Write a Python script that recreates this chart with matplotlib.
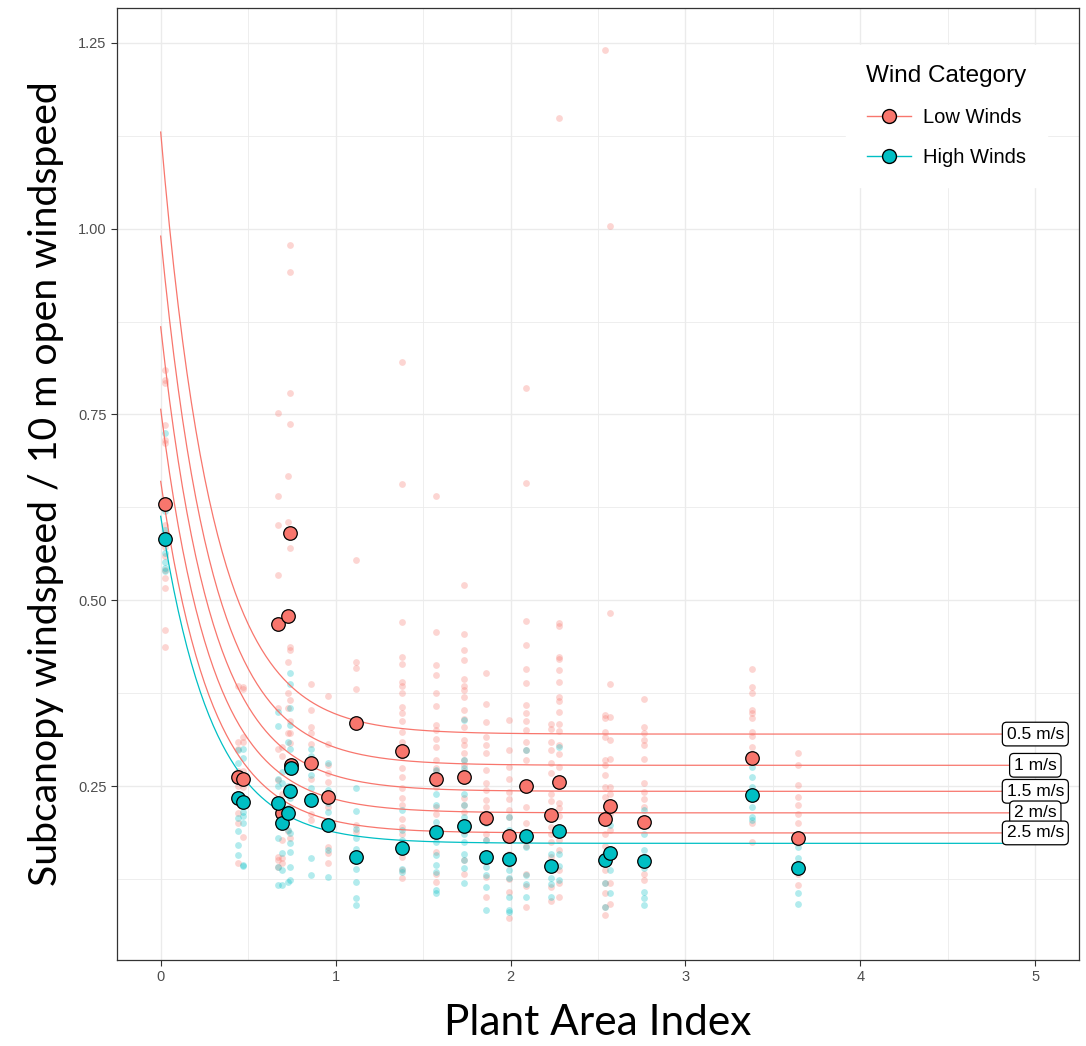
import numpy as np
import matplotlib
matplotlib.use("Agg")
import matplotlib.pyplot as plt
from matplotlib.lines import Line2D

# colours used by ggplot for the two groups
low_col = "#F8766D"
high_col = "#00BFC4"

# raw observations: plant area index of each stand and the ratios measured there
raw_pai = [0.025, 0.442, 0.472, 0.672, 0.691, 0.728, 0.742, 0.859, 0.954, 1.116, 1.377, 1.573,
           1.735, 1.857, 1.99, 2.091, 2.23, 2.278, 2.539, 2.568, 2.762, 3.381, 3.642]

low_raw = [
    [0.810, 0.797, 0.792, 0.736, 0.716, 0.711, 0.63, 0.601, 0.592, 0.572, 0.559, 0.541, 0.530, 0.516, 0.460, 0.4375],
    [0.385, 0.31, 0.30, 0.27, 0.25, 0.214, 0.20, 0.146],
    [0.384, 0.38, 0.316, 0.31, 0.27, 0.249, 0.23, 0.182],
    [0.752, 0.641, 0.601, 0.534, 0.355, 0.30, 0.258, 0.155, 0.15, 0.141],
    [0.303, 0.29, 0.24, 0.177, 0.153, 0.146],
    [0.667, 0.606, 0.417, 0.375, 0.355, 0.321, 0.21, 0.19],
    [0.978, 0.942, 0.779, 0.737, 0.571, 0.4375, 0.433, 0.366, 0.337, 0.321, 0.308, 0.25, 0.18],
    [0.388, 0.353, 0.330, 0.321, 0.307, 0.26, 0.213, 0.205],
    [0.371, 0.307, 0.279, 0.267, 0.256, 0.222, 0.168, 0.16, 0.146],
    [0.554, 0.417, 0.409, 0.380, 0.197, 0.188],
    [0.821, 0.657, 0.471, 0.424, 0.414, 0.39, 0.385, 0.375, 0.357, 0.348, 0.337, 0.323, 0.310, 0.29,
     0.274, 0.2625, 0.247, 0.234, 0.225, 0.206, 0.195, 0.185, 0.164, 0.155, 0.137, 0.126],
    [0.641, 0.458, 0.413, 0.399, 0.375, 0.358, 0.332, 0.325, 0.314, 0.303, 0.285, 0.274, 0.27, 0.249,
     0.222, 0.212, 0.186, 0.161, 0.132, 0.121],
    [0.521, 0.454, 0.433, 0.420, 0.394, 0.385, 0.379, 0.37, 0.352, 0.34, 0.33, 0.312, 0.305, 0.295,
     0.285, 0.278, 0.27, 0.234, 0.225, 0.215, 0.2, 0.19, 0.15, 0.132],
    [0.402, 0.360, 0.336, 0.316, 0.305, 0.294, 0.272, 0.254, 0.245, 0.231, 0.222, 0.186, 0.177, 0.16, 0.128, 0.101],
    [0.339, 0.299, 0.276, 0.26, 0.242, 0.233, 0.218, 0.208, 0.159, 0.145, 0.125, 0.108, 0.072],
    [0.786, 0.658, 0.472, 0.440, 0.408, 0.389, 0.359, 0.349, 0.337, 0.325, 0.310, 0.298, 0.285, 0.222,
     0.200, 0.17, 0.132, 0.115, 0.088],
    [0.334, 0.327, 0.310, 0.298, 0.281, 0.267, 0.240, 0.23, 0.195, 0.185, 0.175, 0.155, 0.138, 0.114, 0.096],
    [1.149, 0.469, 0.466, 0.424, 0.421, 0.406, 0.390, 0.370, 0.365, 0.350, 0.334, 0.324, 0.305, 0.293,
     0.276, 0.227, 0.22, 0.21, 0.177, 0.164, 0.137, 0.119, 0.101],
    [1.241, 0.346, 0.341, 0.323, 0.316, 0.285, 0.278, 0.265, 0.249, 0.235, 0.213, 0.186, 0.169, 0.137,
     0.12, 0.106, 0.088, 0.076],
    [1.004, 0.483, 0.388, 0.343, 0.312, 0.287, 0.249, 0.239, 0.213, 0.191, 0.16, 0.119, 0.092],
    [0.367, 0.329, 0.322, 0.312, 0.305, 0.286, 0.254, 0.242, 0.233, 0.222, 0.202, 0.132, 0.123],
    [0.407, 0.383, 0.375, 0.352, 0.348, 0.341, 0.323, 0.318, 0.303, 0.200, 0.175],
    [0.294, 0.278, 0.251, 0.236, 0.224, 0.213, 0.200, 0.173, 0.132, 0.117],
]

high_raw = [
    [0.725, 0.62, 0.595, 0.583, 0.577, 0.563, 0.552, 0.543, 0.539],
    [0.298, 0.281, 0.26, 0.24, 0.207, 0.19, 0.171, 0.157],
    [0.30, 0.288, 0.265, 0.215, 0.21, 0.20, 0.144, 0.143],
    [0.35, 0.331, 0.26, 0.25, 0.202, 0.18, 0.141, 0.117],
    [0.269, 0.254, 0.197, 0.16, 0.137, 0.117],
    [0.31, 0.25, 0.22, 0.191, 0.121],
    [0.402, 0.388, 0.355, 0.332, 0.30, 0.27, 0.234, 0.22, 0.209, 0.187, 0.173, 0.161, 0.141, 0.123],
    [0.300, 0.29, 0.265, 0.247, 0.227, 0.153, 0.130],
    [0.281, 0.245, 0.227, 0.215, 0.164, 0.128],
    [0.247, 0.216, 0.192, 0.180, 0.166, 0.150, 0.139, 0.121, 0.099, 0.090],
    [0.218, 0.191, 0.177, 0.165, 0.139, 0.135],
    [0.272, 0.240, 0.224, 0.202, 0.175, 0.157, 0.144, 0.135, 0.110, 0.106],
    [0.339, 0.285, 0.275, 0.240, 0.225, 0.209, 0.186, 0.175, 0.159, 0.15, 0.14, 0.119],
    [0.200, 0.177, 0.141, 0.13, 0.114, 0.083],
    [0.209, 0.191, 0.137, 0.127, 0.101, 0.083, 0.08],
    [0.298, 0.168, 0.130, 0.118, 0.101],
    [0.159, 0.126, 0.118, 0.101],
    [0.303, 0.159, 0.142, 0.123],
    [0.159, 0.146, 0.119, 0.088],
    [0.197, 0.159, 0.137, 0.106],
    [0.218, 0.186, 0.164, 0.14, 0.108, 0.1, 0.090],
    [0.276, 0.2625, 0.249, 0.222, 0.209, 0.204],
    [0.168, 0.153, 0.14, 0.106, 0.092],
]

# mean ratio per stand
mean_pai = [0.025, 0.442, 0.472, 0.672, 0.691, 0.728, 0.739, 0.747, 0.859, 0.954, 1.116, 1.377,
            1.573, 1.735, 1.857, 1.99, 2.091, 2.23, 2.278, 2.539, 2.568, 2.762, 3.381, 3.642]
low_mean = [0.630, 0.2625, 0.259, 0.468, 0.214, 0.479, 0.590, 0.279, 0.281, 0.236, 0.335, 0.297,
            0.259, 0.2625, 0.207, 0.183, 0.250, 0.211, 0.255, 0.206, 0.223, 0.202, 0.288, 0.180]
high_mean = [0.583, 0.234, 0.228, 0.227, 0.201, 0.214, 0.244, 0.274, 0.231, 0.197, 0.155, 0.167,
             0.188, 0.196, 0.154, 0.152, 0.183, 0.142, 0.190, 0.150, 0.160, 0.149, 0.2375, 0.140]

# fitted decay curves  y = plateau + (start - plateau) * exp(-rate * PAI)
curve_labels = ["0.5 m/s", "1 m/s", "1.5 m/s", "2 m/s", "2.5 m/s"]
curve_start = [1.13, 0.99, 0.868, 0.757, 0.66]
curve_plateau = [0.32, 0.278, 0.243, 0.214, 0.187]
high_start = 0.613
high_plateau = 0.173
decay_rate = 3.4

fig = plt.figure(figsize=(10.86, 10.46), dpi=100)
ax = fig.add_axes([0.1077, 0.0822, 0.8859, 0.9102])

#Raw points
for x, vals in zip(raw_pai, low_raw):
    ax.scatter([x] * len(vals), vals, s=24, color=low_col, alpha=0.3, linewidths=0, zorder=2)
for x, vals in zip(raw_pai, high_raw):
    ax.scatter([x] * len(vals), vals, s=24, color=high_col, alpha=0.3, linewidths=0, zorder=2)

#Fitted curves
pai = np.linspace(0, 5, 400)
for s0, p in zip(curve_start, curve_plateau):
    ax.plot(pai, p + (s0 - p) * np.exp(-decay_rate * pai), color=low_col, lw=0.9, zorder=3)
ax.plot(pai, high_plateau + (high_start - high_plateau) * np.exp(-decay_rate * pai),
        color=high_col, lw=0.9, zorder=3)

#Means
ax.scatter(mean_pai, low_mean, s=95, color=low_col, edgecolors="black", linewidths=0.9, zorder=4)
ax.scatter(mean_pai, high_mean, s=95, color=high_col, edgecolors="black", linewidths=0.9, zorder=4)

#Curve labels at the end of each curve
for lab, s0, p in zip(curve_labels, curve_start, curve_plateau):
    yend = p + (s0 - p) * np.exp(-decay_rate * 5)
    ax.text(5, yend, lab, ha="center", va="center", fontsize=12.5, family="Liberation Sans", zorder=5,
            bbox=dict(boxstyle="round,pad=0.25,rounding_size=0.25", fc="white", ec="black", lw=0.9))

ax.set_xlim(-0.25, 5.25)
ax.set_ylim(0.016, 1.297)
ax.set_xticks([0, 1, 2, 3, 4, 5])
ax.set_yticks([0.25, 0.5, 0.75, 1.0, 1.25])
ax.set_yticklabels(["0.25", "0.50", "0.75", "1.00", "1.25"])
ax.set_xticks(np.arange(0.5, 5.0, 1.0), minor=True)
ax.set_yticks(np.arange(0.125, 1.3, 0.25), minor=True)
ax.tick_params(which="major", length=4, width=0.8, color="#333333", labelcolor="#4D4D4D", labelsize=10.5)
ax.tick_params(which="minor", length=0)
for lab in ax.get_xticklabels() + ax.get_yticklabels():
    lab.set_family("Liberation Sans")
ax.grid(which="major", color="#EBEBEB", lw=1.0, zorder=0)
ax.grid(which="minor", color="#EBEBEB", lw=0.6, zorder=0)
ax.set_axisbelow(True)
for sp in ax.spines.values():
    sp.set_color("#333333")
    sp.set_linewidth(0.9)

ax.set_xlabel("Plant Area Index", fontsize=30.5, family="Lato", labelpad=14)
ax.set_ylabel("Subcanopy windspeed / 10 m open windspeed", fontsize=28.3, family="Lato", labelpad=10)

handles = [Line2D([], [], color=low_col, marker="o", markersize=10, markerfacecolor=low_col,
                  markeredgecolor="black", lw=1),
           Line2D([], [], color=high_col, marker="o", markersize=10, markerfacecolor=high_col,
                  markeredgecolor="black", lw=1)]
leg = ax.legend(handles, ["Low Winds", "High Winds"], title="Wind Category", loc="upper right",
                bbox_to_anchor=(0.977, 0.972), frameon=True, fancybox=False, edgecolor="white",
                prop={"family": "Liberation Sans", "size": 14.5}, title_fontproperties={"family": "Liberation Sans", "size": 17.5},
                handlelength=2.2, labelspacing=1.05, borderpad=1.0, handletextpad=0.6)
leg.get_frame().set_alpha(1)

fig.savefig("out.png", dpi=100)
